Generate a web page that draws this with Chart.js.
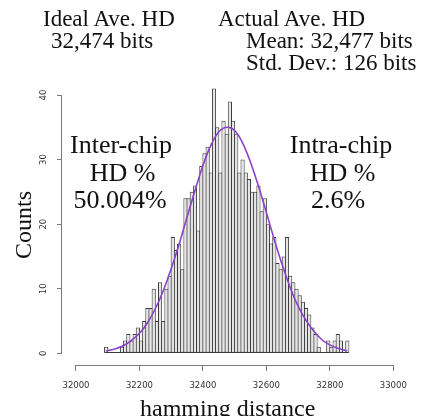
<!DOCTYPE html>
<html><head><meta charset="utf-8">
<script src="https://cdn.jsdelivr.net/npm/chart.js@4/dist/chart.umd.min.js"></script>
<style>
html,body{margin:0;padding:0;background:#fff;overflow:hidden;width:429px;height:416px}
#wrap{position:relative;width:429px;height:416px;overflow:hidden}
canvas{position:absolute;left:0;top:0}
.t{position:absolute;font-family:"Liberation Serif","Times New Roman",serif;color:#111;white-space:nowrap;line-height:1}
.h{font-size:23px}
.a{font-size:26px;width:200px;text-align:center}
</style></head><body>
<div id="wrap">
<canvas id="c" width="429" height="436"></canvas>
<div class="t h" style="left:43px;top:7.3px">Ideal Ave. HD</div>
<div class="t h" style="left:51px;top:29.3px">32,474 bits</div>
<div class="t h" style="left:218px;top:7.3px">Actual Ave. HD</div>
<div class="t h" style="left:246px;top:29.3px">Mean: 32,477 bits</div>
<div class="t h" style="left:246px;top:51.3px">Std. Dev.: 126 bits</div>
<div class="t a" style="left:21px;top:132.2px">Inter-chip</div>
<div class="t a" style="left:22.5px;top:159.9px">HD %</div>
<div class="t a" style="left:20px;top:186.5px">50.004%</div>
<div class="t a" style="left:241px;top:132.2px">Intra-chip</div>
<div class="t a" style="left:242.5px;top:159.9px">HD %</div>
<div class="t a" style="left:238px;top:186.5px">2.6%</div>
</div>
<script>
// histogram bins (bin centres, hamming distance) and counts
const binCenters = [32095,32105,32115,32125,32135,32145,32155,32165,32175,32185,
  32195,32205,32215,32225,32235,32245,32255,32265,32275,32285,
  32295,32305,32315,32325,32335,32345,32355,32365,32375,32385,
  32395,32405,32415,32425,32435,32445,32455,32465,32475,32485,
  32495,32505,32515,32525,32535,32545,32555,32565,32575,32585,
  32595,32605,32615,32625,32635,32645,32655,32665,32675,32685,
  32695,32705,32715,32725,32735,32745,32755,32765,32775,32785,
  32795,32805,32815,32825,32835,32845,32855];
const counts = [1,0,0,0,0,1,2,3,2,3,
  4,2,5,7,7,10,5,11,5,10,
  12,18,16,17,13,24,24,25,26,19,
  29,31,32,28,41,35,28,36,34,39,
  36,34,28,30,28,27,25,25,26,22,
  24,20,17,18,14,13,15,18,12,11,
  10,9,8,7,6,4,3,1,0,0,
  2,1,2,3,2,0,2];
// fitted normal curve
const curveX = [32095,32125,32150,32175,32200,32225,32250,32275,32300,32325,32350,32375,32400,32425,32450,32477,32500,32525,32550,32575,32600,32625,32650,32675,32700,32725,32750,32775,32800,32825,32855];
const curveY = [0.36,0.71,1.2,2.0,3.1,4.7,6.9,9.7,13.1,16.9,21.1,25.2,29.1,32.2,34.3,35.0,34.5,32.6,29.6,25.9,21.8,17.6,13.7,10.2,7.3,5.1,3.4,2.1,1.3,0.8,0.4];
// tick labels
const xTicks = [32000,32200,32400,32600,32800,33000];
const yTicks = [0,10,20,30,40];

const axisColor = '#7a7a7a';
const axisLines = {
  id: 'axisLines',
  beforeDatasetsDraw(chart) {
    const {ctx, scales: {x, y}} = chart;
    const half = (binCenters[1] - binCenters[0]) / 2;
    const y0 = Math.round(y.getPixelForValue(0)) - 0.5;
    ctx.save();
    ctx.strokeStyle = '#3a3a3a';
    ctx.lineWidth = 1;
    ctx.beginPath();
    ctx.moveTo(x.getPixelForValue(binCenters[0] - half), y0);
    ctx.lineTo(x.getPixelForValue(binCenters[binCenters.length - 1] + half), y0);
    ctx.stroke();
    ctx.restore();
  },
  afterDraw(chart) {
    const {ctx, scales: {x, y}, chartArea} = chart;
    ctx.save();
    ctx.strokeStyle = axisColor;
    ctx.lineWidth = 1;
    ctx.beginPath();
    const by = Math.round(chartArea.bottom) + 0.5;
    ctx.moveTo(x.getPixelForValue(xTicks[0]), by);
    ctx.lineTo(x.getPixelForValue(xTicks[xTicks.length - 1]), by);
    const lx = Math.round(chartArea.left) - 0.5;
    ctx.moveTo(lx, y.getPixelForValue(yTicks[0]));
    ctx.lineTo(lx, y.getPixelForValue(yTicks[yTicks.length - 1]));
    ctx.stroke();
    ctx.restore();
  }
};

new Chart(document.getElementById('c'), {
  type: 'bar',
  data: {
    datasets: [
      {
        type: 'line',
        data: curveX.map((v, i) => ({x: v, y: curveY[i]})),
        borderColor: '#8c42c8',
        borderWidth: 1.6,
        pointRadius: 0,
        fill: false,
        cubicInterpolationMode: 'monotone',
        order: 1
      },
      {
        type: 'bar',
        data: binCenters.map((v, i) => ({x: v, y: counts[i]})),
        backgroundColor: '#e4e4e4',
        borderColor: '#3a3a3a',
        borderWidth: 1,
        borderSkipped: false,
        barPercentage: 1.315,
        categoryPercentage: 1,
        grouped: false,
        order: 2
      }
    ]
  },
  options: {
    responsive: false,
    maintainAspectRatio: false,
    devicePixelRatio: 1,
    animation: false,
    events: [],
    layout: {padding: {left: 0, top: 85, right: 35.7, bottom: 0}},
    plugins: {legend: {display: false}, tooltip: {enabled: false}},
    scales: {
      x: {
        type: 'linear',
        offset: false,
        min: 31955.9,
        max: 33000,
        afterBuildTicks: s => { s.ticks = xTicks.map(v => ({value: v})); },
        afterFit: s => { s.height = 71; },
        grid: {display: true, offset: false, drawOnChartArea: false, drawTicks: true, tickLength: 6, color: axisColor},
        border: {display: false},
        ticks: {
          autoSkip: false, maxRotation: 0, minRotation: 0, padding: 9.4,
          color: '#333', font: {family: 'DejaVu Sans', size: 8.5},
          callback: v => String(v)
        },
        title: {
          display: true, text: 'hamming distance', color: '#111',
          font: {family: 'Liberation Serif', size: 24},
          padding: {top: 0, bottom: 11.6}
        }
      },
      y: {
        type: 'linear',
        min: -1.81,
        max: 41.55,
        afterBuildTicks: s => { s.ticks = yTicks.map(v => ({value: v})); },
        afterFit: s => { s.width = 62; },
        grid: {display: true, drawOnChartArea: false, drawTicks: true, tickLength: 5, color: axisColor},
        border: {display: false},
        ticks: {
          minRotation: 90, maxRotation: 90, crossAlign: 'center', padding: 7.8,
          color: '#333', font: {family: 'DejaVu Sans', size: 8.5},
          callback: v => String(v)
        },
        title: {
          display: true, text: 'Counts', color: '#111',
          font: {family: 'Liberation Serif', size: 24},
          padding: {top: 10.6, bottom: 0}
        }
      }
    }
  },
  plugins: [axisLines]
});
</script>
</body></html>
